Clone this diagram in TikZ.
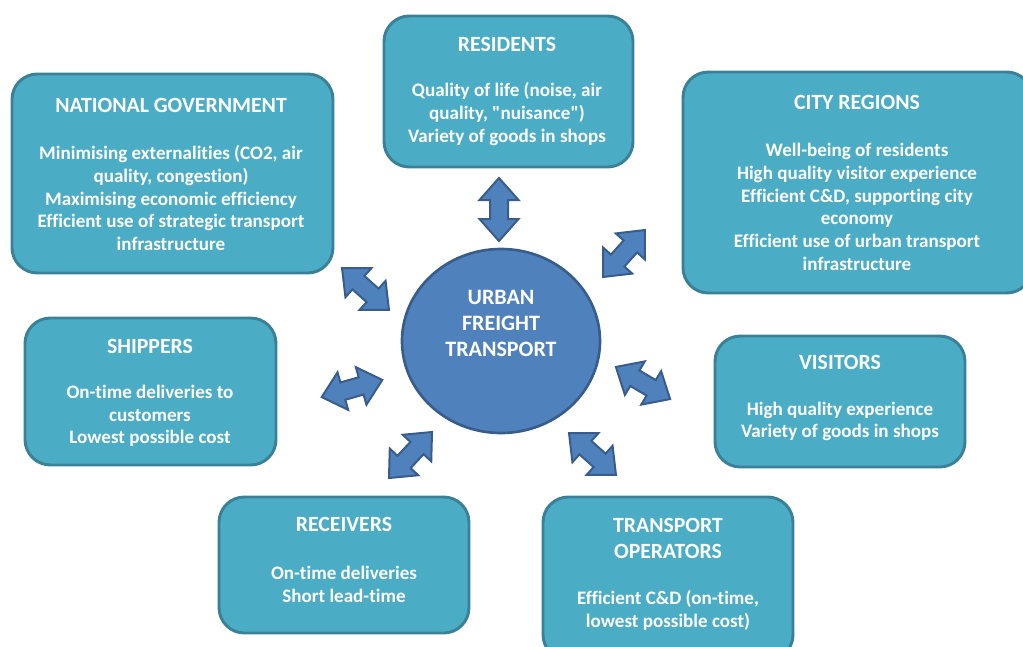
\documentclass[tikz,border=0pt]{standalone}
\usepackage{fontspec}
\setmainfont{Carlito}[Ligatures={TeXOff,CommonOff}]
\usetikzlibrary{fit,shapes.geometric}
\definecolor{boxfill}{HTML}{4BACC6}
\definecolor{boxline}{HTML}{3A8197}
\definecolor{circfill}{HTML}{4F81BD}
\definecolor{circline}{HTML}{385D8A}
\tikzset{
  box/.style={draw=boxline, line width=2.2pt, fill=boxfill, rounded corners=19pt, inner sep=0pt},
  ttl/.style={text=white, font=\bfseries\fontsize{16.3}{19.5}\selectfont, align=center, inner sep=0pt},
  bdy/.style={text=white, font=\bfseries\fontsize{14.3}{17}\selectfont, align=center, inner sep=0pt},
  hub/.style={ellipse, draw=circline, line width=2pt, fill=circfill, inner sep=0pt,
    minimum width=148.5pt, minimum height=138pt},
  arrowst/.style={draw=circline, fill=circfill, line width=1.5pt, line join=miter},
  pics/dbl/.style={code={
    \draw[arrowst] (-31.5,0) -- (-9.5,19.5) -- (-9.5,9) -- (9.5,9) -- (9.5,19.5) -- (31.5,0)
      -- (9.5,-19.5) -- (9.5,-9) -- (-9.5,-9) -- (-9.5,-19.5) -- cycle;}}
}
\begin{document}
\begin{tikzpicture}[x=0.75pt,y=-0.75pt]
\useasboundingbox (0,0) rectangle (1023,646);

% boxes
\node[box, fit={(384,16) (633,167)}] (res) {};
\node[box, fit={(12,74) (333,273)}] (ng) {};
\node[box, fit={(683,72) (1032,293)}] (cr) {};
\node[box, fit={(25,318) (276,465)}] (sh) {};
\node[box, fit={(715,336) (965,467)}] (vi) {};
\node[box, fit={(219,497) (469,633)}] (re) {};
\node[box, fit={(543,497) (793,660)}] (to) {};

% hub
\node[hub] (hubc) at (501,341) {};
\node[ttl, font=\bfseries\fontsize{16.5}{19.5}\selectfont] (hubt) at (501,323) {URBAN\\FREIGHT\\TRANSPORT};

% texts
\node[ttl] (res-t) at (507,44) {RESIDENTS};
\node[bdy] (res-b) at (507,114) {Quality of life (noise, air\\quality, "nuisance")\\Variety of goods in shops};

\node[ttl] (ng-t) at (171,105) {NATIONAL GOVERNMENT};
\node[bdy] (ng-b) at (171,198) {Minimising externalities (CO2, air\\quality, congestion)\\Maximising economic efficiency\\Efficient use of strategic transport\\infrastructure};

\node[ttl] (cr-t) at (857,102) {CITY REGIONS};
\node[bdy] (cr-b) at (857,207) {Well-being of residents\\High quality visitor experience\\Efficient C\&D, supporting city\\economy\\Efficient use of urban transport\\infrastructure};

\node[ttl] (sh-t) at (150,346) {SHIPPERS};
\node[bdy] (sh-b) at (150,416) {On-time deliveries to\\customers\\Lowest possible cost};

\node[ttl] (vi-t) at (840,362) {VISITORS};
\node[bdy] (vi-b) at (840,421.5) {High quality experience\\Variety of goods in shops};

\node[ttl] (re-t) at (344,524) {RECEIVERS};
\node[bdy] (re-b) at (344,584.5) {On-time deliveries\\Short lead-time};

\node[ttl] (to-t) at (668,538) {TRANSPORT\\OPERATORS};
\node[bdy] (to-b) at (668,610.5) {Efficient C\&D (on-time,\\lowest possible cost)};

% arrows
\coordinate (a1s) at (499,178); \coordinate (a1e) at (499,241);
\coordinate (a2s) at (645,230); \coordinate (a2e) at (603,277);
\coordinate (a3s) at (342,268); \coordinate (a3e) at (389,310);
\coordinate (a4s) at (322,397); \coordinate (a4e) at (382,380);
\coordinate (a5s) at (432,432); \coordinate (a5e) at (389,478);
\coordinate (a6s) at (569,433); \coordinate (a6e) at (616,475);
\coordinate (a7s) at (616,367); \coordinate (a7e) at (670,399);
\foreach \i in {1,...,7}{
  \path (a\i s) -- (a\i e) pic[pos=0.5, sloped] {dbl};
}
\end{tikzpicture}
\end{document}
